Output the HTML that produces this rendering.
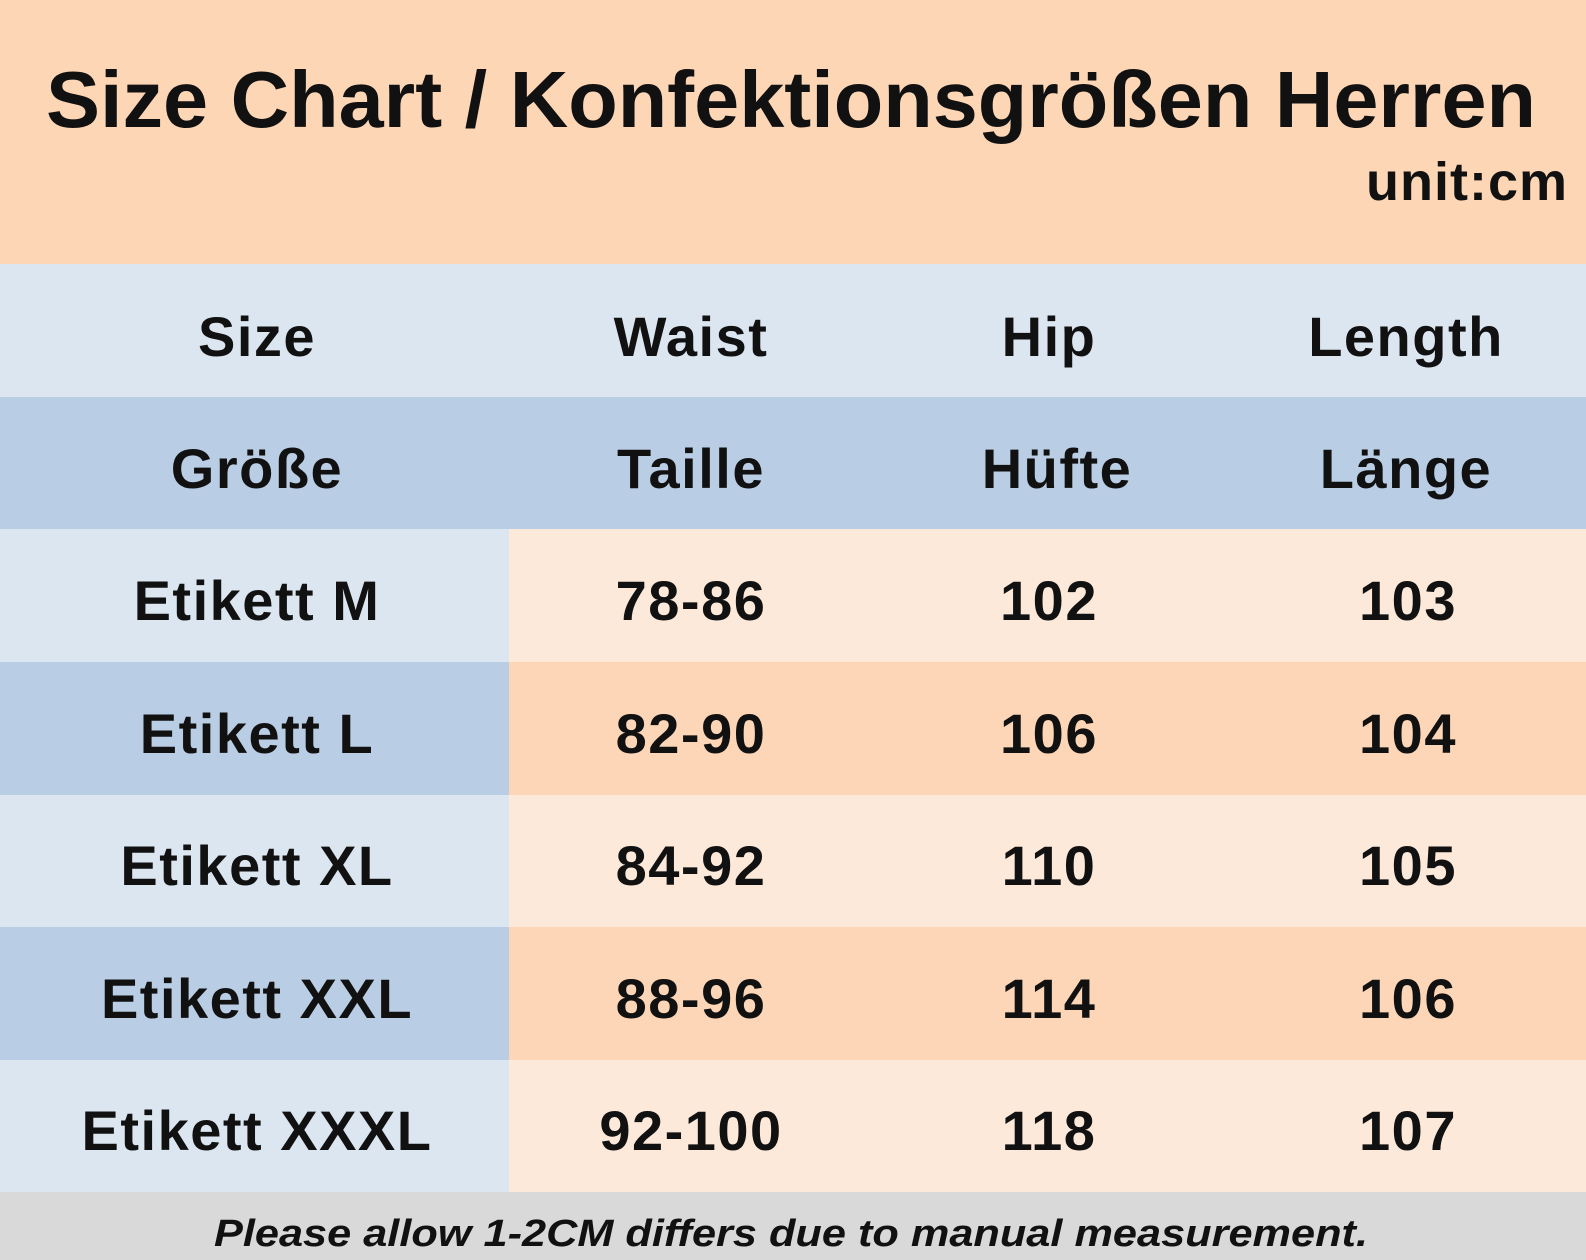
<!DOCTYPE html>
<html><head><meta charset="utf-8"><style>
html,body{margin:0;padding:0;width:1586px;height:1260px;overflow:hidden;background:#fff}
svg{display:block}
text{font-family:"Liberation Sans","DejaVu Sans",sans-serif;font-weight:bold;fill:#111}
</style></head><body>
<svg width="1586" height="1260" viewBox="0 0 1586 1260">
<rect x="0" y="0" width="1586" height="264" fill="#fdd6b6"/>
<text x="46" y="127" font-size="80" textLength="1490" lengthAdjust="spacingAndGlyphs">Size Chart / Konfektionsgrößen Herren</text>
<text x="1568" y="200" font-size="54" text-anchor="end" letter-spacing="1">unit:cm</text>

<rect x="0" y="264" width="1586" height="133" fill="#dce6f1"/>
<rect x="0" y="397" width="1586" height="132" fill="#b9cde4"/>

<g><rect x="0" y="529" width="509" height="133" fill="#dce6f1"/><rect x="509" y="529" width="1077" height="133" fill="#fde9da"/></g>
<g><rect x="0" y="662" width="509" height="133" fill="#b9cde4"/><rect x="509" y="662" width="1077" height="133" fill="#fcd6b6"/></g>
<g><rect x="0" y="795" width="509" height="132" fill="#dce6f1"/><rect x="509" y="795" width="1077" height="132" fill="#fde9da"/></g>
<g><rect x="0" y="927" width="509" height="133" fill="#b9cde4"/><rect x="509" y="927" width="1077" height="133" fill="#fcd6b6"/></g>
<g><rect x="0" y="1060" width="509" height="132" fill="#dce6f1"/><rect x="509" y="1060" width="1077" height="132" fill="#fde9da"/></g>
<rect x="0" y="1192" width="1586" height="68" fill="#d9d9d9"/>

<g font-size="56" text-anchor="middle" letter-spacing="1.5">
<text x="257" y="356">Size</text><text x="691" y="356">Waist</text><text x="1049" y="356">Hip</text><text x="1406" y="356">Length</text>
<text x="257" y="488">Größe</text><text x="691" y="488">Taille</text><text x="1057" y="488">Hüfte</text><text x="1406" y="488">Länge</text>
<text x="257" y="620">Etikett M</text><text x="691" y="620">78-86</text><text x="1049" y="620">102</text><text x="1408" y="620">103</text>
<text x="257" y="753">Etikett L</text><text x="691" y="753">82-90</text><text x="1049" y="753">106</text><text x="1408" y="753">104</text>
<text x="257" y="885">Etikett XL</text><text x="691" y="885">84-92</text><text x="1049" y="885">110</text><text x="1408" y="885">105</text>
<text x="257" y="1018">Etikett XXL</text><text x="691" y="1018">88-96</text><text x="1049" y="1018">114</text><text x="1408" y="1018">106</text>
<text x="257" y="1150">Etikett XXXL</text><text x="691" y="1150">92-100</text><text x="1049" y="1150">118</text><text x="1408" y="1150">107</text>
</g>
<text x="214" y="1246" font-size="38" font-style="italic" textLength="1154" lengthAdjust="spacingAndGlyphs">Please allow 1-2CM differs due to manual measurement.</text>
</svg>
</body></html>
